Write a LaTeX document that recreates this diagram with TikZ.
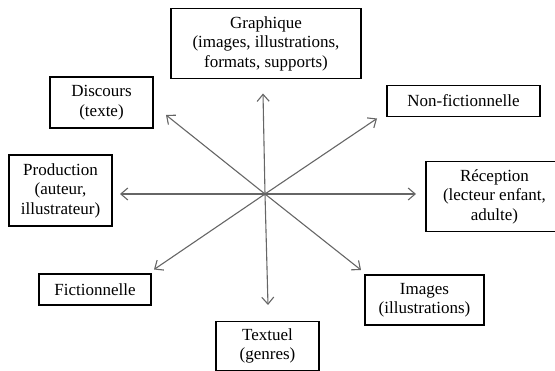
\documentclass[tikz,border=0pt]{standalone}
\usepackage{fontspec}
\setmainfont{Liberation Serif}
\usetikzlibrary{arrows.meta}

\begin{document}
\begin{tikzpicture}[
  x=1pt, y=-1pt,
  font=\fontsize{17}{19.5}\selectfont,
  box/.style={draw, line width=1.6pt, align=center, inner sep=0pt},
  arr/.style={-{Straight Barb[length=7pt, width=12pt]}, line width=1.1pt, draw=black!60}
]
  \useasboundingbox (0,0) rectangle (555,371);

  % --- boxes around the star ---
  \node[box, minimum width=190pt, minimum height=70pt] (graph)  at (266,43.5)
    {Graphique\\(images, illustrations,\\formats, supports)};
  \node[box, minimum width=103pt, minimum height=51pt] (disc)   at (101.5,102.5)
    {Discours\\(texte)};
  \node[box, minimum width=153pt, minimum height=31pt] (nonfic) at (463.5,101)
    {Non-fictionnelle};
  \node[box, minimum width=103pt, minimum height=71pt] (prod)   at (60.5,190.5)
    {Production\\(auteur,\\illustrateur)};
  \node[box, minimum width=137pt, minimum height=70pt] (recep)  at (494.5,196.5)
    {R\'eception\\(lecteur enfant,\\adulte)};
  \node[box, minimum width=112pt, minimum height=31pt] (fic)    at (95,289.5)
    {Fictionnelle};
  \node[box, minimum width=119pt, minimum height=50pt] (imgs)   at (424.5,300)
    {Images\\(illustrations)};
  \node[box, minimum width=103pt, minimum height=49pt] (textu)  at (267.5,346)
    {Textuel\\(genres)};

  % --- centre of the star and arrow tips ---
  \coordinate (c)         at (265,194);
  \coordinate (tipgraph)  at (263,93.5);
  \coordinate (tiptextu)  at (268,305);
  \coordinate (tipprod)   at (120,194);
  \coordinate (tiprecep)  at (416,194);
  \coordinate (tipdisc)   at (166,115);
  \coordinate (tipimgs)   at (361,270);
  \coordinate (tipnonfic) at (377,118.5);
  \coordinate (tipfic)    at (154,269.5);

  \draw[arr] (c) -- (tipgraph);
  \draw[arr] (c) -- (tiptextu);
  \draw[arr] (c) -- (tipprod);
  \draw[arr] (c) -- (tiprecep);
  \draw[arr] (c) -- (tipdisc);
  \draw[arr] (c) -- (tipimgs);
  \draw[arr] (c) -- (tipnonfic);
  \draw[arr] (c) -- (tipfic);
\end{tikzpicture}
\end{document}
